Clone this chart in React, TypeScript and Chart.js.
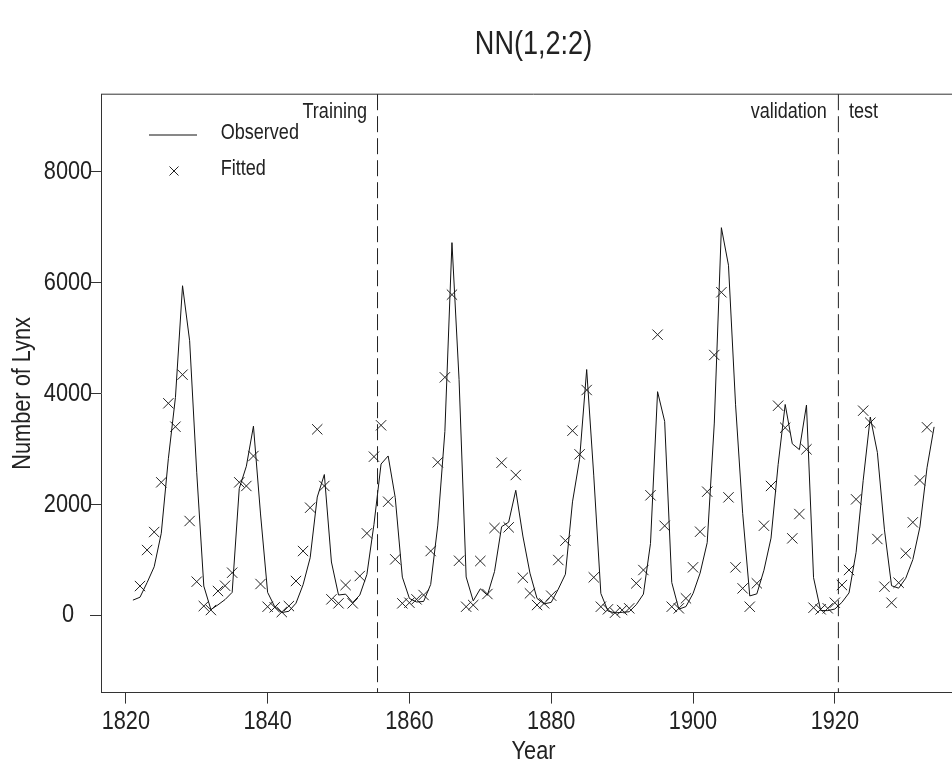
import React, { useEffect, useRef } from 'react';
import { Chart, registerables } from 'chart.js';

Chart.register(...registerables);

// ---------------- data ----------------
const OBS_START_YEAR = 1821;
const observed = [
  269, 321, 585, 871, 1475, 2821, 3928, 5943, 4950, 2577,
  523, 98, 184, 279, 409, 2285, 2685, 3409, 1824, 409,
  151, 45, 68, 213, 546, 1033, 2129, 2536, 957, 361,
  377, 225, 360, 731, 1638, 2725, 2871, 2119, 684, 299,
  236, 245, 552, 1623, 3311, 6721, 4254, 687, 255, 473,
  358, 784, 1594, 1676, 2251, 1426, 756, 299, 201, 229,
  469, 736, 2042, 2811, 4431, 2511, 389, 73, 39, 49,
  59, 188, 377, 1292, 4031, 3495, 587, 105, 153, 387,
  758, 1307, 3465, 6991, 6313, 3794, 1836, 345, 382, 808,
  1388, 2713, 3800, 3091, 2985, 3790, 674, 81, 80, 108,
  229, 399, 1132, 2432, 3574, 2935, 1537, 529, 485, 662,
  1000, 1590, 2657, 3396,
];

const FIT_START_YEAR = 1822;
const fitted = [
  523, 1173, 1498, 2395, 3821, 3399, 4338, 1697, 602,
  162, 90, 433, 529, 764, 2395, 2329, 2870, 560, 150,
  139, 54, 162, 614, 1155, 1937, 3352, 2329, 283, 211,
  541, 211, 704, 1474, 2858, 3424, 2045, 1005, 211, 222,
  283, 361, 1155, 2756, 4290, 5782, 980, 150, 180, 975,
  379, 1570, 2749, 1583, 2527, 673, 391, 180, 211, 349,
  993, 1342, 3327, 2900, 4061, 680, 150, 103, 42, 90,
  121, 572, 812, 2161, 5060, 1610, 150, 121, 301, 861,
  1504, 2226, 4693, 5825, 2124, 861, 481, 150, 572, 1612,
  2329, 3778, 3381, 1384, 1823, 2991, 132, 103, 121, 222,
  541, 812, 2088, 3688, 3471, 1372, 511, 222, 583, 1114,
  1673, 2430, 3388,
];

const xTickValues = [1820, 1840, 1860, 1880, 1900, 1920];
const yTickValues = [0, 2000, 4000, 6000, 8000];
const splitYears = [1855.5, 1920.5];
const periodLabels = ['Training', 'validation', 'test'];
const legendLabels = ['Observed', 'Fitted'];
const chartTitle = 'NN(1,2:2)';
const xTitle = 'Year';
const yTitle = 'Number of Lynx';

// ---------------- layout constants ----------------
const W = 966;
const H = 767;
const PLOT_TOP = 94.2;
const PLOT_BOTTOM = 692.6;
const PLOT_LEFT = 101;
const TICK_LEN = 11;
const TITLE_Y = 45;
const Y_LABEL_CENTER = 68;
const INK = '#222';
const FAMILY = '"Liberation Sans", Arial, Helvetica, sans-serif';
const SQUEEZE = 0.82; // narrow (condensed) lettering like the reference
const TITLE_SIZE = 33;
const AXIS_SIZE = 26.5;
const SMALL_SIZE = 22;

function squeezeText(ctx: any, f: number) {
  if (ctx.__squeezed) return;
  ctx.__squeezed = true;
  const origFill = ctx.fillText.bind(ctx);
  const origMeasure = ctx.measureText.bind(ctx);
  ctx.fillText = (t: string, x: number, y: number, mw?: number) => {
    ctx.save();
    ctx.translate(x, y);
    ctx.scale(f, 1);
    if (mw !== undefined && mw !== null) origFill(t, 0, 0, mw / f);
    else origFill(t, 0, 0);
    ctx.restore();
  };
  ctx.measureText = (t: string) => {
    const m = origMeasure(t);
    return {
      width: m.width * f,
      actualBoundingBoxAscent: m.actualBoundingBoxAscent,
      actualBoundingBoxDescent: m.actualBoundingBoxDescent,
      actualBoundingBoxLeft: m.actualBoundingBoxLeft * f,
      actualBoundingBoxRight: m.actualBoundingBoxRight * f,
    };
  };
}

export default function App() {
  const ref = useRef<HTMLCanvasElement | null>(null);

  useEffect(() => {
    const canvas = ref.current;
    if (!canvas) return;
    const ctx0 = canvas.getContext('2d') as any;
    squeezeText(ctx0, SQUEEZE);

    ctx0.font = `${AXIS_SIZE}px ${FAMILY}`;
    const widest = Math.max(...yTickValues.map((v) => ctx0.measureText(String(v)).width));
    const yPad = PLOT_LEFT - TICK_LEN - Y_LABEL_CENTER - widest / 2;

    const titleLH = TITLE_SIZE * 1.2;
    const titlePadTop = TITLE_Y - titleLH / 2;
    const titlePadBottom = PLOT_TOP - titlePadTop - titleLH;

    const obsData = observed.map((v, i) => ({ x: OBS_START_YEAR + i, y: v }));
    const fitData = fitted.map((v, i) => ({ x: FIT_START_YEAR + i, y: v }));

    const overlay = {
      id: 'overlay',
      afterDraw(chart: any) {
        const { ctx, chartArea: ca, scales } = chart;
        const xs = scales.x;
        ctx.save();
        ctx.strokeStyle = '#333';
        ctx.lineWidth = 1;
        ctx.beginPath();
        ctx.moveTo(ca.left, ca.top);
        ctx.lineTo(ca.right, ca.top);
        ctx.stroke();

        ctx.setLineDash([16, 6]);
        ctx.strokeStyle = '#222';
        const px = splitYears.map((v) => xs.getPixelForValue(v));
        px.forEach((p: number) => {
          ctx.beginPath();
          ctx.moveTo(p, ca.top);
          ctx.lineTo(p, ca.bottom);
          ctx.stroke();
        });
        ctx.setLineDash([]);

        ctx.font = `${SMALL_SIZE}px ${FAMILY}`;
        ctx.fillStyle = INK;
        ctx.textBaseline = 'alphabetic';
        const labelY = ca.top + 23.3;
        ctx.textAlign = 'right';
        ctx.fillText(periodLabels[0], px[0] - 10.5, labelY);
        ctx.fillText(periodLabels[1], px[1] - 11.5, labelY);
        ctx.textAlign = 'left';
        ctx.fillText(periodLabels[2], px[1] + 10.5, labelY);

        const lx = ca.left;
        ctx.strokeStyle = '#111';
        ctx.lineWidth = 1;
        ctx.beginPath();
        ctx.moveTo(lx + 48, ca.top + 40.8);
        ctx.lineTo(lx + 96, ca.top + 40.8);
        ctx.stroke();
        const cx = lx + 73;
        const cy = ca.top + 76.8;
        ctx.strokeStyle = INK;
        ctx.beginPath();
        ctx.moveTo(cx - 4.5, cy - 4.5);
        ctx.lineTo(cx + 4.5, cy + 4.5);
        ctx.moveTo(cx - 4.5, cy + 4.5);
        ctx.lineTo(cx + 4.5, cy - 4.5);
        ctx.stroke();
        ctx.textAlign = 'left';
        ctx.fillText(legendLabels[0], lx + 119.7, ca.top + 44.8);
        ctx.fillText(legendLabels[1], lx + 119.7, ca.top + 80.8);
        ctx.restore();
      },
    };

    const chart = new Chart(canvas, {
      type: 'scatter',
      data: {
        datasets: [
          {
            label: legendLabels[0],
            data: obsData,
            showLine: true,
            borderColor: '#111',
            borderWidth: 1,
            pointRadius: 0,
            tension: 0,
          },
          {
            label: legendLabels[1],
            data: fitData,
            showLine: false,
            pointStyle: 'crossRot',
            pointRadius: 7.3,
            borderColor: INK,
            borderWidth: 1,
            backgroundColor: INK,
          },
        ],
      },
      options: {
        animation: false,
        responsive: false,
        devicePixelRatio: 1,
        layout: { padding: 0, autoPadding: false },
        plugins: {
          legend: { display: false },
          tooltip: { enabled: false },
          title: {
            display: true,
            text: chartTitle,
            fullSize: false,
            color: INK,
            font: { family: FAMILY, size: TITLE_SIZE, weight: 'normal', lineHeight: 1.2 },
            padding: { top: titlePadTop, bottom: titlePadBottom },
          },
        },
        scales: {
          x: {
            type: 'linear',
            min: 1816.5,
            max: 1938.5,
            afterBuildTicks: (s: any) => {
              s.ticks = xTickValues.map((v) => ({ value: v }));
            },
            afterFit: (s: any) => {
              s.height = H - PLOT_BOTTOM;
            },
            grid: { display: true, drawOnChartArea: false, drawTicks: true, tickLength: TICK_LEN, color: '#333', lineWidth: 1 },
            border: { display: true, color: '#333', width: 1 },
            ticks: {
              color: INK,
              padding: 2,
              maxRotation: 0,
              autoSkip: false,
              font: { family: FAMILY, size: AXIS_SIZE },
              callback: (v: any) => String(v),
            },
            title: {
              display: true,
              text: xTitle,
              color: INK,
              font: { family: FAMILY, size: AXIS_SIZE, lineHeight: 1 },
              padding: { top: 0, bottom: 2 },
            },
          },
          y: {
            type: 'linear',
            min: -1400,
            max: 9400,
            afterBuildTicks: (s: any) => {
              s.ticks = yTickValues.map((v) => ({ value: v }));
            },
            afterFit: (s: any) => {
              s.width = PLOT_LEFT;
            },
            grid: { display: true, drawOnChartArea: false, drawTicks: true, tickLength: TICK_LEN, color: '#333', lineWidth: 1 },
            border: { display: true, color: '#333', width: 1 },
            ticks: {
              color: INK,
              padding: yPad,
              crossAlign: 'center',
              font: { family: FAMILY, size: AXIS_SIZE },
              callback: (v: any) => String(v),
            },
            title: {
              display: true,
              text: yTitle,
              color: INK,
              font: { family: FAMILY, size: AXIS_SIZE, lineHeight: 1 },
              padding: { top: 9, bottom: 0 },
            },
          },
        },
      },
      plugins: [overlay],
    } as any);

    return () => {
      chart.destroy();
    };
  }, []);

  return (
    <div
      style={{
        position: 'absolute',
        left: 0,
        top: 0,
        width: 952,
        height: 767,
        overflow: 'hidden',
        background: '#fff',
      }}
    >
      <canvas ref={ref} width={W} height={H} style={{ display: 'block', width: W, height: H }} />
    </div>
  );
}
